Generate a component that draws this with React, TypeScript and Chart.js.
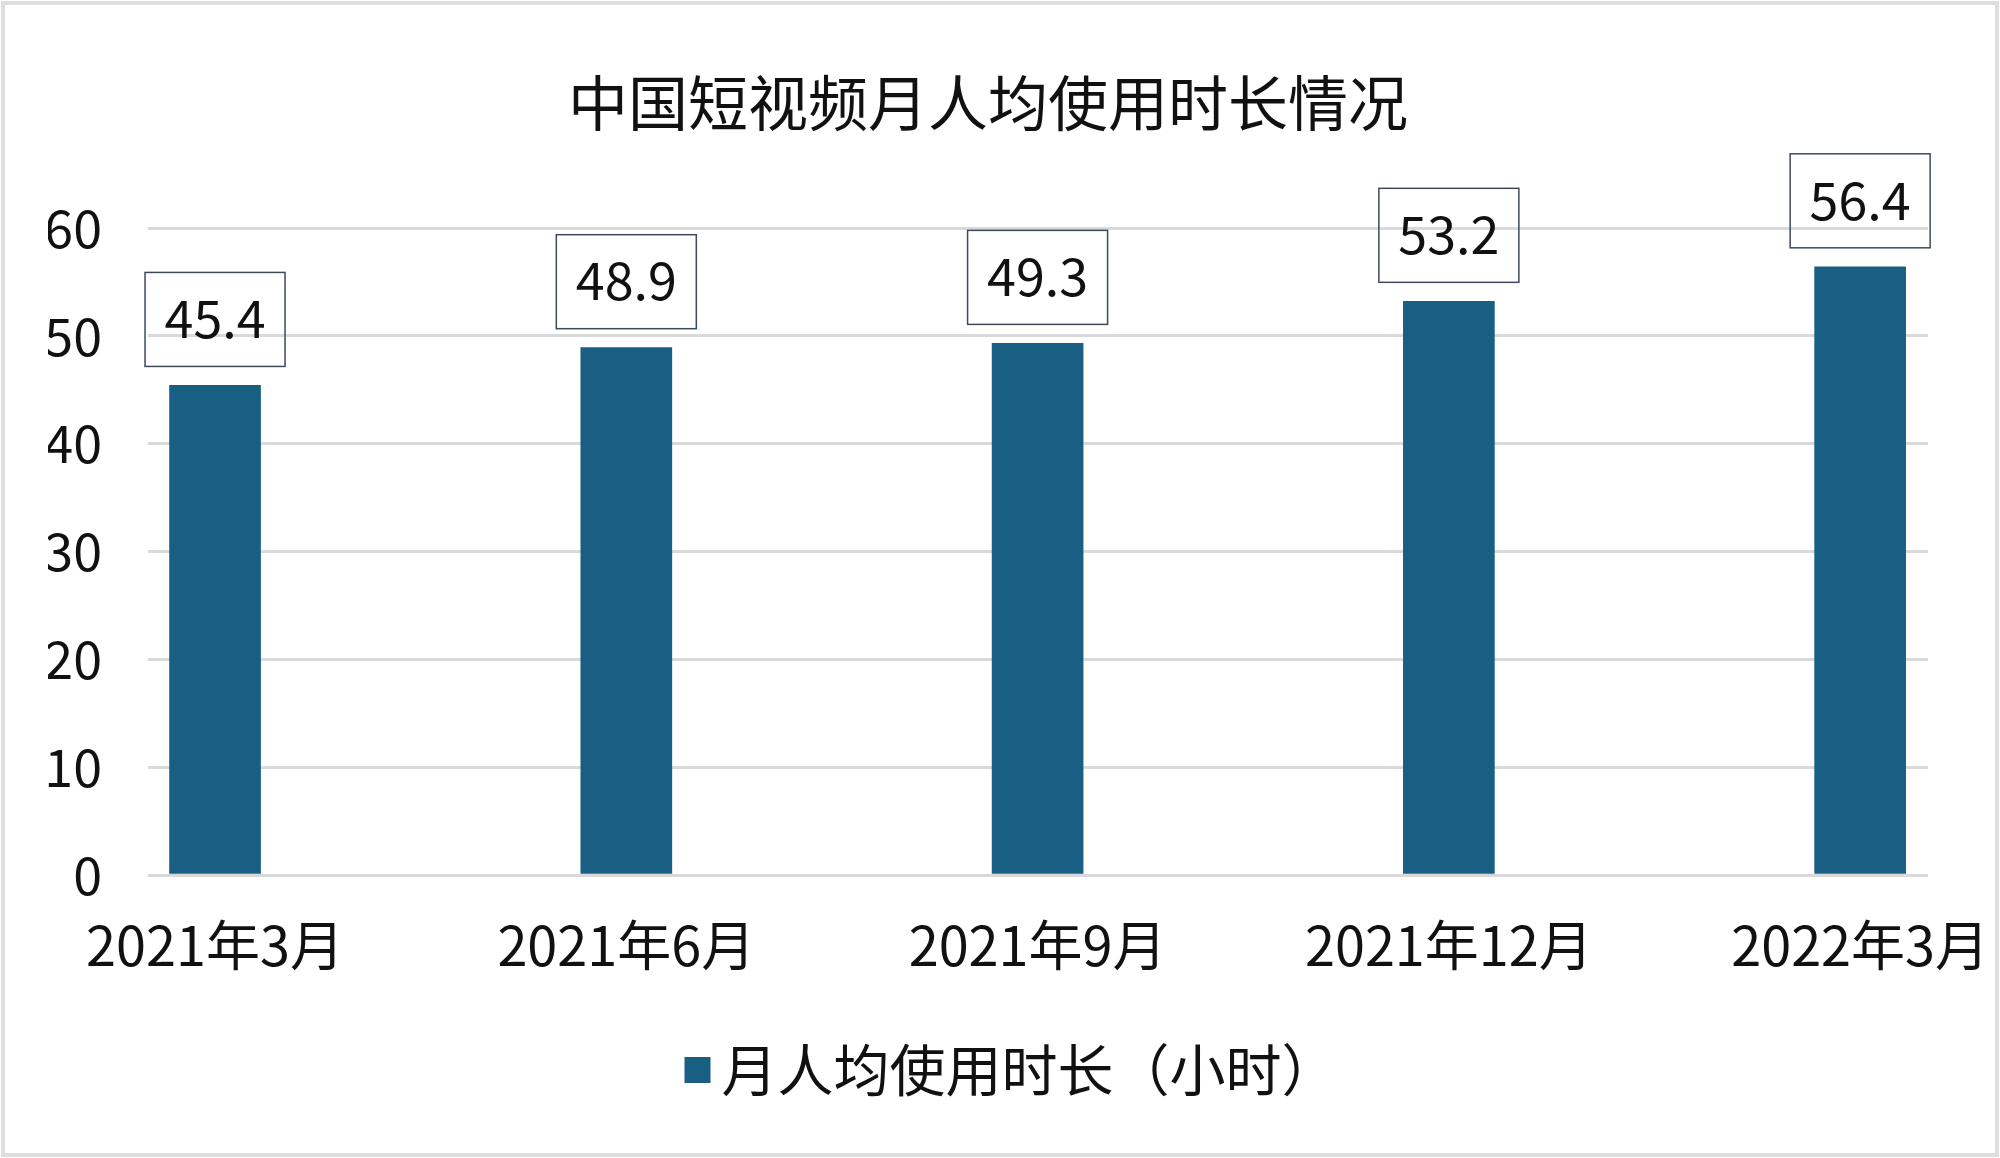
import React, { useEffect, useRef } from "react";
import { Chart, registerables } from "chart.js";

Chart.register(...registerables);

const TITLE = "中国短视频月人均使用时长情况";
const SERIES_LABEL = "月人均使用时长（小时）";
const categories = ["2021年3月", "2021年6月", "2021年9月", "2021年12月", "2022年3月"];
const values = [45.4, 48.9, 49.3, 53.2, 56.4];
const yTicks = [0, 10, 20, 30, 40, 50, 60];

const FONT = '"Noto Sans CJK SC", "Noto Sans", sans-serif';
const BAR_COLOR = "#195e83";
const GRID_COLOR = "#d9d9d9";
const TEXT_COLOR = "#111111";

const labelBoxPlugin = {
  id: "labelBoxes",
  afterDatasetsDraw(chart: any) {
    const ctx = chart.ctx;
    const meta = chart.getDatasetMeta(0);
    ctx.save();
    ctx.font = `52px ${FONT}`;
    ctx.textAlign = "center";
    ctx.textBaseline = "middle";
    meta.data.forEach((el: any, i: number) => {
      const text = values[i].toFixed(1);
      const w = 140;
      const h = 94;
      const cx = el.x;
      const bottom = el.y - 19;
      ctx.strokeStyle = "#3c4a5a";
      ctx.lineWidth = 1.5;
      ctx.strokeRect(cx - w / 2, bottom - h, w, h);
      ctx.fillStyle = TEXT_COLOR;
      ctx.fillText(text, cx, bottom - h / 2 - 1);
    });
    ctx.restore();
  },
};

const customLegendPlugin = {
  id: "customLegend",
  afterDraw(chart: any) {
    const ctx = chart.ctx;
    const ds = chart.data.datasets[0];
    ctx.save();
    ctx.font = `56px ${FONT}`;
    ctx.textBaseline = "middle";
    ctx.textAlign = "left";
    const box = 26;
    const gap = 11;
    const tw = ctx.measureText(ds.label).width;
    const total = box + gap + tw;
    const cx = chart.width / 2 + 11;
    const cy = chart.height - 88;
    const x0 = cx - total / 2;
    ctx.fillStyle = ds.backgroundColor;
    ctx.fillRect(x0, cy - box / 2, box, box);
    ctx.fillStyle = TEXT_COLOR;
    ctx.fillText(ds.label, x0 + box + gap, cy);
    ctx.restore();
  },
};

export default function App() {
  const canvasRef = useRef<HTMLCanvasElement | null>(null);

  useEffect(() => {
    const canvas = canvasRef.current;
    if (!canvas) return;
    const chart = new Chart(canvas, {
      type: "bar",
      data: {
        datasets: [
          {
            label: SERIES_LABEL,
            data: values.map((v, i) => ({ x: i, y: v })),
            backgroundColor: BAR_COLOR,
            borderWidth: 0,
            barThickness: 91,
          },
        ],
      },
      options: {
        responsive: false,
        animation: false,
        devicePixelRatio: 1,
        layout: { padding: { left: 48, right: 72, top: 0, bottom: 125 } },
        plugins: {
          title: {
            display: true,
            text: TITLE,
            color: TEXT_COLOR,
            font: { family: FONT, size: 60, weight: "normal", lineHeight: 1.2 },
            padding: { top: 67, bottom: 89 },
          },
          legend: { display: false },
          tooltip: { enabled: false },
        },
        scales: {
          x: {
            type: "linear",
            offset: false,
            min: -0.163,
            max: 4.165,
            grid: { display: false, offset: false },
            border: { display: false },
            afterBuildTicks: (axis: any) => {
              axis.ticks = categories.map((_, i) => ({ value: i }));
            },
            afterFit: (axis: any) => {
              axis.height = 158;
              axis.paddingLeft = 0;
              axis.paddingRight = 0;
            },
            ticks: {
              color: TEXT_COLOR,
              font: { family: FONT, size: 54 },
              padding: 30,
              maxRotation: 0,
              autoSkip: false,
              callback: (value: any) => categories[Math.round(Number(value))] ?? "",
            },
          },
          y: {
            type: "linear",
            min: 0,
            max: 60,
            afterBuildTicks: (axis: any) => {
              axis.ticks = yTicks.map((v) => ({ value: v }));
            },
            afterFit: (axis: any) => {
              axis.width = 100;
              axis.paddingTop = 0;
              axis.paddingBottom = 0;
            },
            grid: { color: GRID_COLOR, lineWidth: 3, drawTicks: false },
            border: { display: false },
            ticks: {
              color: TEXT_COLOR,
              font: { family: FONT, size: 52 },
              padding: 46,
            },
          },
        },
      },
      plugins: [labelBoxPlugin, customLegendPlugin],
    } as any);
    return () => chart.destroy();
  }, []);

  return (
    <div
      style={{
        position: "absolute",
        left: 0,
        top: 0,
        width: 2000,
        height: 1158,
        background: "#ffffff",
      }}
    >
      <canvas ref={canvasRef} width={2000} height={1158} style={{ width: 2000, height: 1158, display: "block" }} />
      <div
        style={{
          position: "absolute",
          left: 1,
          top: 1,
          width: 1998,
          height: 1156,
          boxSizing: "border-box",
          border: "4px solid #dedede",
          pointerEvents: "none",
        }}
      />
    </div>
  );
}
